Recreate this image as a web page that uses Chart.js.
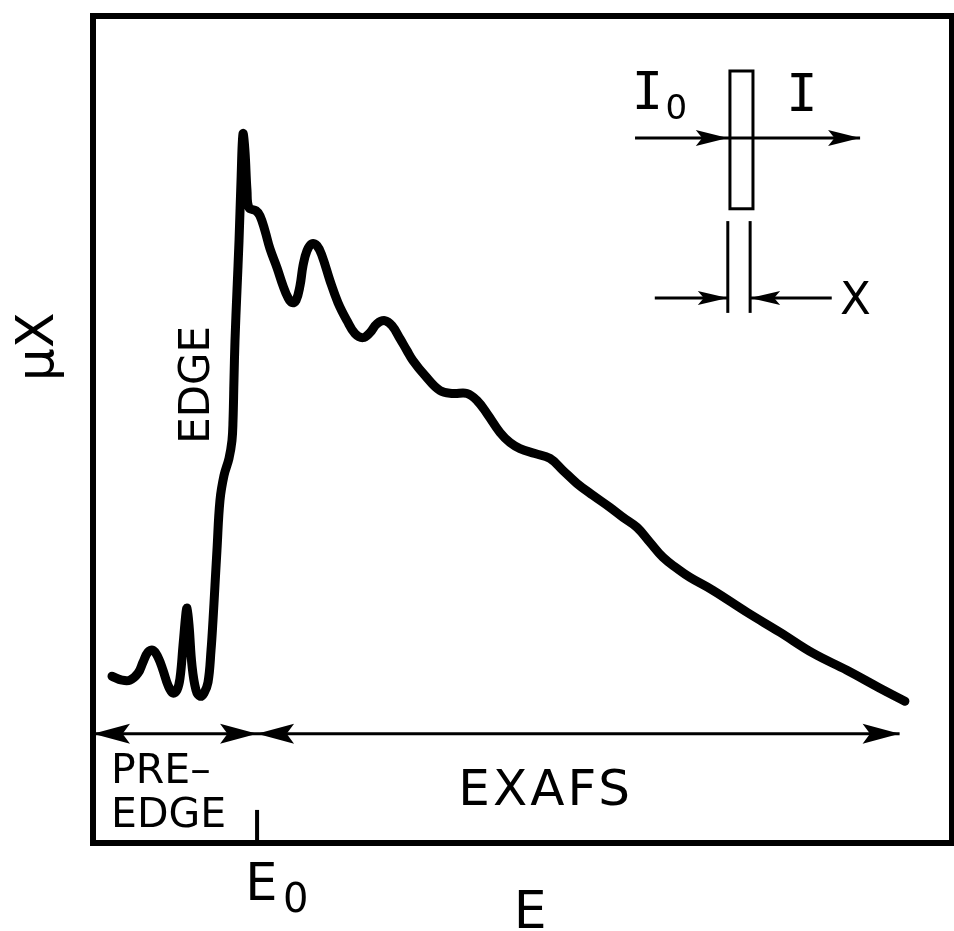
<!DOCTYPE html>
<html>
<head>
<meta charset="utf-8">
<script src="https://cdn.jsdelivr.net/npm/chart.js@4/dist/chart.umd.min.js"></script>
<style>
  html, body { margin: 0; padding: 0; background: #fff; }
  canvas { display: block; }
</style>
</head>
<body>
<canvas id="chart" width="954" height="931"></canvas>
<script>
// energy E and absorption mu*x, arbitrary units (0-100 across the frame)
const energy = [
  2.21, 3.38, 4.31, 5.24, 5.82, 6.40, 6.98, 7.57, 8.15, 8.73,
  9.31, 9.78, 10.13, 10.48, 10.83, 10.94, 11.18, 11.52, 11.99, 12.46,
  12.92, 13.39, 13.74, 13.97, 14.20, 14.43, 14.78, 15.25, 15.83, 16.18,
  16.30, 16.41, 16.53, 16.76, 17.00, 17.23, 17.46, 17.69, 17.93, 18.16,
  18.97, 19.44, 20.02, 20.60, 21.42, 22.12, 22.70, 23.17, 23.63, 24.10,
  24.45, 24.91, 25.49, 26.08, 26.66, 27.59, 28.52, 29.57, 30.50, 31.43,
  32.25, 33.06, 33.99, 34.81, 35.74, 36.55, 37.25, 38.65, 40.39, 41.91,
  43.54, 44.70, 45.87, 47.38, 48.54, 49.71, 51.45, 53.20, 54.71, 56.34,
  58.21, 60.18, 61.70, 63.33, 64.84, 66.35, 67.98, 69.50, 72.17, 76.13,
  79.97, 83.82, 87.77, 91.61, 94.52
]
const absorption = [
  20.17, 19.69, 19.69, 20.53, 21.86, 23.07, 23.31, 22.46, 20.89, 19.08,
  18.12, 18.48, 19.93, 23.91, 27.90, 28.38, 26.33, 21.50, 18.48, 17.75,
  18.12, 19.44, 23.31, 26.93, 31.16, 35.39, 41.42, 44.44, 46.50, 48.67,
  51.09, 55.92, 60.75, 66.79, 72.82, 80.07, 85.75, 83.69, 78.86, 76.81,
  76.45, 75.84, 74.03, 71.86, 69.56, 67.39, 65.94, 65.34, 65.58, 67.39,
  69.81, 71.62, 72.46, 72.22, 71.01, 67.99, 65.34, 63.16, 61.59, 61.11,
  61.71, 62.80, 63.16, 62.56, 60.99, 59.54, 58.33, 56.52, 54.71, 54.35,
  54.35, 53.50, 51.93, 49.64, 48.43, 47.70, 47.10, 46.50, 45.05, 43.48,
  42.03, 40.58, 39.37, 38.16, 36.35, 34.54, 33.21, 32.12, 30.55, 27.90,
  25.48, 22.95, 20.89, 18.72, 17.15
]

const edgeEnergy = 19.1   // E0
const exafsEnd = 93.9

const FONT = '"DejaVu Sans", sans-serif'
const MONO = '"DejaVu Sans Mono", monospace'

function arrowHead(ctx, x1, y1, x2, y2, len, half) {
  const a = Math.atan2(y2 - y1, x2 - x1)
  ctx.beginPath()
  ctx.moveTo(x2, y2)
  ctx.lineTo(x2 - len * Math.cos(a) + half * Math.sin(a), y2 - len * Math.sin(a) - half * Math.cos(a))
  ctx.lineTo(x2 - len * 0.8 * Math.cos(a), y2 - len * 0.8 * Math.sin(a))
  ctx.lineTo(x2 - len * Math.cos(a) - half * Math.sin(a), y2 - len * Math.sin(a) + half * Math.cos(a))
  ctx.closePath()
  ctx.fill()
}

function line(ctx, x1, y1, x2, y2) {
  ctx.beginPath()
  ctx.moveTo(x1, y1)
  ctx.lineTo(x2, y2)
  ctx.stroke()
}

function text(ctx, str, x, y, font, align, base) {
  ctx.font = font
  ctx.textAlign = align || 'center'
  ctx.textBaseline = base || 'alphabetic'
  ctx.fillText(str, x, y)
}

const sketch = {
  id: 'sketch',
  beforeDraw(chart) {
    const ctx = chart.ctx
    ctx.save()
    ctx.fillStyle = '#fff'
    ctx.fillRect(0, 0, chart.width, chart.height)
    ctx.restore()
  },
  beforeDatasetsDraw(chart) {
    const ctx = chart.ctx
    const a = chart.chartArea
    ctx.save()
    ctx.strokeStyle = '#000'
    ctx.lineWidth = 6
    ctx.strokeRect(a.left, a.top, a.right - a.left, a.bottom - a.top)
    ctx.restore()
  },
  afterDatasetsDraw(chart) {
    const ctx = chart.ctx
    const X = v => chart.scales.x.getPixelForValue(v)
    const Y = v => chart.scales.y.getPixelForValue(v)
    ctx.save()
    ctx.strokeStyle = '#000'
    ctx.fillStyle = '#000'

    // region arrows
    const ry = Y(13.2)
    ctx.lineWidth = 3
    line(ctx, X(0), ry, X(exafsEnd), ry)
    arrowHead(ctx, X(edgeEnergy), ry, X(0), ry, 37, 10)
    arrowHead(ctx, X(0), ry, X(edgeEnergy), ry, 37, 10)
    arrowHead(ctx, X(exafsEnd), ry, X(edgeEnergy), ry, 37, 10)
    arrowHead(ctx, X(edgeEnergy), ry, X(exafsEnd), ry, 37, 10)

    // E0 tick
    ctx.lineWidth = 4
    line(ctx, X(edgeEnergy), Y(0), X(edgeEnergy), Y(4))

    // labels
    text(ctx, 'PRE–', X(2.1), Y(7.2), '41px ' + FONT, 'left')
    text(ctx, 'EDGE', X(2.1), Y(1.9), '41px ' + FONT, 'left')
    ctx.letterSpacing = '3px'
    text(ctx, 'EXAFS', X(52.7), Y(4.6), '50px ' + FONT)
    ctx.letterSpacing = '0px'

    ctx.save()
    ctx.translate(X(12.2), Y(55.4))
    ctx.rotate(-Math.PI / 2)
    text(ctx, 'EDGE', 0, 0, '42px ' + FONT, 'center', 'middle')
    ctx.restore()

    ctx.save()
    ctx.translate(X(-6.2), Y(60.0))
    ctx.rotate(-Math.PI / 2)
    text(ctx, 'μX', 0, 0, '52px ' + FONT, 'center', 'middle')
    ctx.restore()

    text(ctx, 'E', X(19.6), Y(-6.9), '51px ' + FONT)
    text(ctx, '0', X(23.6), Y(-8.3), '40px ' + FONT)
    text(ctx, 'E', X(50.9), Y(-10.3), '52px ' + FONT)

    // inset: beam through sample of thickness x
    ctx.lineWidth = 3
    const by = Y(85.26)
    line(ctx, X(63.1), by, X(89.3), by)
    arrowHead(ctx, X(63.1), by, X(73.9), by, 32, 8)
    arrowHead(ctx, X(63.1), by, X(89.3), by, 32, 8)
    ctx.strokeRect(X(74.15), Y(93.35), X(76.83) - X(74.15), Y(76.69) - Y(93.35))
    line(ctx, X(73.9), Y(75.2), X(73.9), Y(64.1))
    line(ctx, X(76.5), Y(75.2), X(76.5), Y(64.1))
    const ty = Y(65.9)
    line(ctx, X(65.4), ty, X(73.9), ty)
    arrowHead(ctx, X(65.4), ty, X(73.9), ty, 30, 7)
    line(ctx, X(86.0), ty, X(76.5), ty)
    arrowHead(ctx, X(86.0), ty, X(76.5), ty, 30, 7)

    text(ctx, 'I', X(64.55), Y(88.76), '52px ' + MONO)
    text(ctx, '0', X(67.9), Y(87.55), '34px ' + FONT)
    text(ctx, 'I', X(82.54), Y(88.52), '52px ' + MONO)
    text(ctx, 'X', X(88.76), Y(64.0), '45px ' + FONT)
    ctx.restore()
  }
}

new Chart(document.getElementById('chart'), {
  type: 'line',
  data: {
    datasets: [{
      data: energy.map((e, i) => ({ x: e, y: absorption[i] })),
      borderColor: '#000',
      borderWidth: 9,
      borderCapStyle: 'round',
      borderJoinStyle: 'round',
      pointRadius: 0,
      tension: 0.4,
      fill: false
    }]
  },
  options: {
    responsive: false,
    animation: false,
    layout: { padding: { left: 93, right: 2, top: 16, bottom: 88 } },
    plugins: { legend: { display: false }, tooltip: { enabled: false } },
    scales: {
      x: { type: 'linear', min: 0, max: 100, display: false },
      y: { type: 'linear', min: 0, max: 100, display: false }
    }
  },
  plugins: [sketch]
})
</script>
</body>
</html>
